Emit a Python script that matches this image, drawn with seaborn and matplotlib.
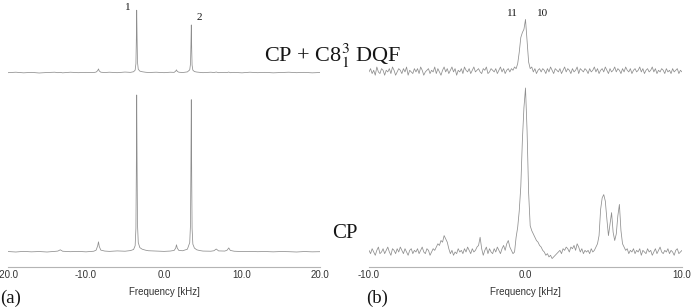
import numpy as np
import pandas as pd
import matplotlib
matplotlib.use("Agg")
import matplotlib.pyplot as plt
import seaborn as sns

# (a) broad sweep, non-uniform sampling so the narrow lines keep their shape
left_freq = [-20.0, -19.0, -18.0, -17.0, -16.0, -15.0, -14.0, -13.6, -13.3, -13.0,
             -12.0, -11.0, -10.0, -9.0, -8.7, -8.5, -8.4, -8.3, -8.1, -7.6,
             -7.0, -6.0, -5.0, -4.3, -3.9, -3.7, -3.6, -3.55, -3.5, -3.45,
             -3.4, -3.3, -3.1, -2.8, -2.4, -2.0, -1.0, 0.0, 0.8, 1.3,
             1.5, 1.6, 1.7, 1.9, 2.4, 3.0, 3.3, 3.4, 3.45, 3.5,
             3.55, 3.6, 3.7, 3.9, 4.2, 4.6, 5.0, 6.0, 6.4, 6.7,
             7.0, 7.8, 8.1, 8.3, 8.5, 9.0, 10.0, 11.0, 12.0, 13.0,
             14.0, 15.0, 16.0, 17.0, 18.0, 19.0, 20.0]
left_cp = [0.3, 0.0, 0.4, 0.1, 0.3, 0.0, 0.4, 0.6, 1.4, 0.5,
           0.2, 0.4, 0.1, 0.5, 1.2, 4.0, 6.5, 3.5, 1.2, 0.6,
           0.4, 0.7, 0.5, 0.9, 1.6, 4.0, 15, 50, 100, 55,
           18, 6, 2.8, 1.8, 1.2, 0.8, 0.6, 0.4, 0.6, 1.0,
           2.5, 4.6, 2.5, 1.0, 0.8, 1.8, 6, 18, 55, 97,
           50, 15, 5, 2.5, 1.4, 0.9, 0.6, 0.5, 0.8, 1.9,
           0.7, 0.6, 1.2, 2.6, 1.0, 0.5, 0.3, 0.4, 0.2, 0.3,
           0.1, 0.3, 0.2, 0.0, 0.3, 0.1, 0.2]
left_dqf = [0.2, 0.5, 0.1, 0.4, 0.0, 0.3, 0.5, 0.2, 0.4, 0.1,
            0.5, 0.2, 0.4, 0.3, 0.6, 1.5, 2.6, 1.3, 0.5, 0.3,
            0.5, 0.2, 0.6, 0.4, 0.8, 1.8, 6, 20, 40, 22,
            7, 2.4, 1.2, 0.8, 0.5, 0.3, 0.5, 0.2, 0.5, 0.4,
            1.2, 2.0, 1.0, 0.5, 0.3, 0.7, 2.0, 6, 17, 30.6,
            16, 5, 1.8, 0.9, 0.6, 0.4, 0.2, 0.5, 0.3, 0.6,
            0.2, 0.4, 0.3, 0.6, 0.2, 0.4, 0.1, 0.5, 0.2, 0.4,
            0.1, 0.3, 0.5, 0.2, 0.4, 0.1, 0.3]

# (b) narrow sweep, -10 .. 10 kHz in 0.1 kHz steps (one row per kHz)
right_freq = np.round(np.arange(-100, 101) * 0.1, 1)
right_cp = [1, -1, 2, 0, -2, 1, 3, -1, 0, 2,
            -1, 1, 3, 0, -2, 2, 1, -1, 2, 0,
            3, 1, -1, 2, 0, -2, 1, 2, -1, 1,
            0, 2, -1, 1, 3, 0, -1, 2, 1, -2,
            0, 2, 1, 3, 5, 4, 7, 6, 10, 8,
            6, 2, -1, 1, -2, 0, -1, 2, 0, 1,
            -1, 2, 0, 3, 1, -1, 2, 0, 1, 3,
            4, 9, 2, -2, 1, 3, -1, 2, 0, -1,
            2, 0, 3, 1, -1, 2, 4, 1, 5, 7,
            3, 1, -1, 0, 9, 15, 25, 40, 68, 88,
            100, 74, 36, 16, 13, 11, 9, 7, 6, 4,
            3, 1, 0, -2, -1, -3, -2, -4, -3, -2,
            -1, 0, 1, -1, 2, 1, 3, 2, 0, 3,
            2, 4, 1, 5, 3, 0, 2, -1, 1, 0,
            1, -1, 2, 0, 1, 3, 5, 10, 26, 33,
            35, 31, 20, 10, 17, 24, 12, 7, 11, 22,
            29, 13, 5, 3, 1, 2, -1, 1, 0, 2,
            -1, 1, 0, 2, -2, 1, 0, -1, 2, 0,
            1, -2, 0, 2, -1, 1, 3, 0, -1, 1,
            0, 2, -1, 1, 0, -2, 1, 2, -1, 0,
            1]
right_dqf = [0, 2, -1, 1, -2, 3, 0, -1, 2, 1,
             -2, 1, 0, 2, -1, 3, 1, -2, 0, 2,
             1, -1, 2, 0, 3, -2, 1, 0, -1, 2,
             0, 2, -1, 3, 1, -2, 0, 1, 2, -1,
             1, 0, 3, -1, 2, 0, -2, 1, 3, 0,
             2, -1, 1, 3, 0, 2, -2, 1, 0, 2,
             -1, 3, 1, 0, 2, -1, 1, 3, 0, 1,
             2, 0, -1, 2, 1, 3, -1, 0, 2, 1,
             0, 2, -1, 1, 3, 0, 2, -1, 1, 2,
             0, 2, 1, 3, 2, 5, 12, 21, 24, 26,
             32, 19, 6, 2, 3, 0, 2, -1, 1, 2,
             0, 2, 1, -1, 2, 0, 3, 1, -1, 2,
             1, 0, 2, -1, 1, 3, 0, 2, 1, -1,
             2, 0, 1, 3, -1, 2, 1, 0, 2, 1,
             -1, 2, 0, 1, 3, 0, 2, -1, 1, 2,
             0, 3, 1, -1, 2, 0, 1, 3, 0, 2,
             1, -1, 2, 0, 3, 1, 0, 2, -1, 1,
             2, 0, 1, 3, 0, 2, -1, 1, 2, 0,
             1, 3, 0, 2, -1, 1, 0, 2, 1, -1,
             2, 0, 1, -1, 2, 0, 1, 2, -1, 1,
             0]

left_df = pd.DataFrame({"freq": left_freq, "cp": left_cp, "dqf": left_dqf})
right_df = pd.DataFrame({"freq": right_freq, "cp": right_cp, "dqf": right_dqf})

sns.set_style("white")
plt.rcParams["axes.unicode_minus"] = False
plt.rcParams["mathtext.fontset"] = "stix"
plt.rcParams["font.family"] = ["Liberation Sans", "DejaVu Sans"]

trace_col = "#8e8e8e"
axis_col = "#b4b4b4"
text_col = "#151515"

fig = plt.figure(figsize=(6.94, 3.08), dpi=100)
W, H = 694, 308

ax_a = fig.add_axes([8 / W, 41 / H, 312 / W, 262 / H])
ax_b = fig.add_axes([369 / W, 41 / H, 313 / W, 262 / H])

# left panel: CP at the bottom, DQF lifted above it
sns.lineplot(x=left_df.freq, y=left_df.cp, ax=ax_a, color=trace_col, linewidth=0.55, errorbar=None)
sns.lineplot(x=left_df.freq, y=left_df.dqf + 114, ax=ax_a, color=trace_col, linewidth=0.55, errorbar=None)
ax_a.set_xlim(-20, 20)
ax_a.set_ylim(-9.55, 157.3)
ax_a.set_xticks([-20, -10, 0, 10, 20])
ax_a.set_xticks([-15, -5, 5, 15], minor=True)

# right panel
sns.lineplot(x=right_df.freq, y=right_df.cp, ax=ax_b, color=trace_col, linewidth=0.55, errorbar=None)
sns.lineplot(x=right_df.freq, y=right_df.dqf + 109.8, ax=ax_b, color=trace_col, linewidth=0.55, errorbar=None)
ax_b.set_xlim(-10, 10)
ax_b.set_ylim(-9.15, 150.6)
ax_b.set_xticks([-10, 0, 10])

for ax in (ax_a, ax_b):
    ax.patch.set_alpha(0)
    sns.despine(ax=ax, left=True, top=True, right=True)
    ax.spines["bottom"].set_color(axis_col)
    ax.spines["bottom"].set_linewidth(0.8)
    ax.set_yticks([])
    ax.set_ylabel("")
    ax.xaxis.set_major_formatter(matplotlib.ticker.FormatStrFormatter("%.1f"))
    ax.tick_params(axis="x", which="both", direction="in", length=3, width=0.6,
                   color=axis_col, labelsize=7, labelcolor="#333333", pad=2)
    ax.set_xlabel("Frequency [kHz]", fontsize=7, color="#333333", labelpad=5)

serif = ["Liberation Serif", "DejaVu Serif"]
fig.text(333 / W, 1 - 61.5 / H, r"CP + C8$_{1}^{3}$ DQF", fontsize=16, family=serif,
         ha="center", va="baseline", color=text_col)
fig.text(345 / W, 1 - 238 / H, "CP", fontsize=15, family=serif,
         ha="center", va="baseline", color=text_col)
fig.text(0 / W, 1 - 298 / H, "(a)", fontsize=13.5, family=serif, ha="left", va="center", color=text_col)
fig.text(366 / W, 1 - 298 / H, "(b)", fontsize=13.5, family=serif, ha="left", va="center", color=text_col)

for lab, px, py in [("1", 128, 7), ("2", 199, 18), ("11", 512, 14), ("10", 543, 14)]:
    fig.text(px / W, 1 - py / H, lab, fontsize=8, family=serif, ha="center", va="center", color=text_col)

fig.savefig("out.png", dpi=100)
